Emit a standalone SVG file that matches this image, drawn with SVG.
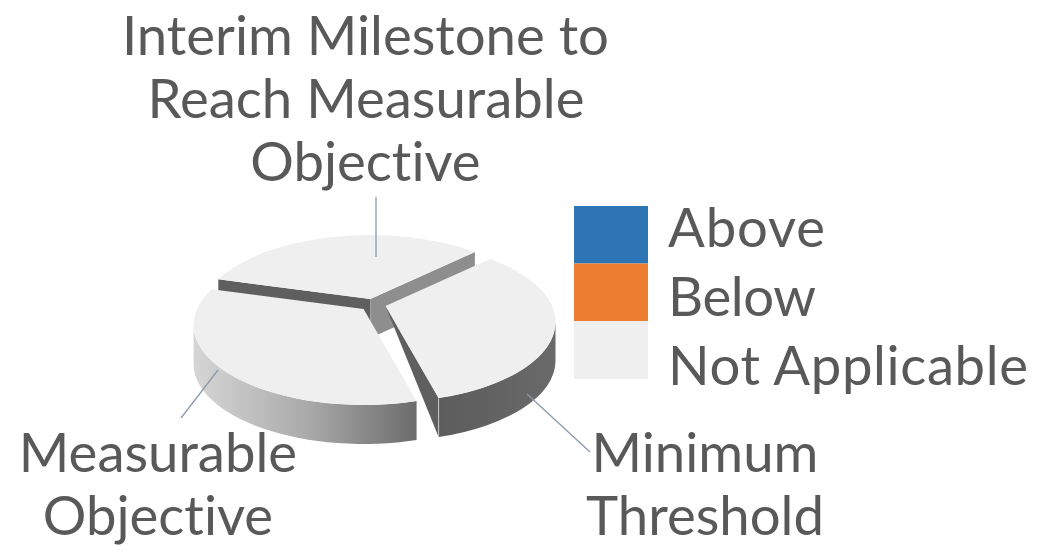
<svg xmlns="http://www.w3.org/2000/svg" width="1046" height="554" viewBox="0 0 1046 554">
  <defs>
    <linearGradient id="gMeas" gradientUnits="userSpaceOnUse" x1="193" y1="0" x2="417" y2="0">
      <stop offset="0" stop-color="#d6d6d6"/>
      <stop offset="0.5" stop-color="#ababab"/>
      <stop offset="1" stop-color="#6c6c6c"/>
    </linearGradient>
    <linearGradient id="gMin" gradientUnits="userSpaceOnUse" x1="438" y1="0" x2="556" y2="0">
      <stop offset="0" stop-color="#5c5c5c"/>
      <stop offset="1" stop-color="#6a6a6a"/>
    </linearGradient>
  </defs>
  <style>
    .lbl { font-family: Lato, "Open Sans", "Liberation Sans", sans-serif; font-size: 54.5px; fill: #595959; font-variant-ligatures: none; font-feature-settings: "liga" 0; }
    .top { fill: #efefef; }
    .dark { fill: #5f5f5f; }
    .mid { fill: #8e8e8e; }
    .leader { stroke: #8c9aab; stroke-width: 1.3; fill: none; }
  </style>
  <rect width="1046" height="554" fill="#ffffff"/>

  <g id="slice-interim">
    <polygon class="dark" points="370.3,299.1 218.3,279.3 218.3,318.3 370.3,338.1"/>
    <polygon class="mid" points="370.3,299.1 474.9,252 474.9,291 370.3,338.1"/>
    <path class="top" d="M370.3 299.1 L218.3 279.3 A170 80 0 0 1 474.9 252 Z"/>
  </g>

  <g id="slice-minimum">
    <path fill="url(#gMin)" d="M555.5 322.1 A170 80 0 0 1 438.6 398.1 L438.6 437.1 A170 80 0 0 0 555.5 361.1 Z"/>
    <polygon class="dark" points="385.5,306.1 438.6,398.1 438.6,437.1"/>
    <line x1="438.6" y1="398.1" x2="438.6" y2="437.1" stroke="#c8c8c8" stroke-width="1"/>
    <path class="top" d="M385.5 306.1 L490.1 259 A170 80 0 0 1 438.6 398.1 Z"/>
  </g>

  <g id="slice-measurable">
    <path fill="url(#gMeas)" d="M193.6 325 A170 80 0 0 0 416.6 401 L416.6 440 A170 80 0 0 1 193.6 364 Z"/>
    <path class="top" d="M363.6 309 L416.6 401 A170 80 0 0 1 211.6 289.2 Z"/>
  </g>

  <g id="connectors">
    <line class="leader" x1="376" y1="197" x2="376" y2="257"/>
    <line class="leader" x1="218" y1="370" x2="181" y2="418"/>
    <line class="leader" x1="527" y1="394" x2="590" y2="452"/>
  </g>

  <g id="label-interim">
    <text class="lbl" x="365.5" y="55" text-anchor="middle">Interim Milestone to</text>
    <text class="lbl" x="366" y="118" text-anchor="middle">Reach Measurable</text>
    <text class="lbl" x="365.5" y="181" text-anchor="middle">Objective</text>
  </g>
  <g id="label-measurable">
    <text class="lbl" x="158" y="472" text-anchor="middle">Measurable</text>
    <text class="lbl" x="158" y="535" text-anchor="middle">Objective</text>
  </g>
  <g id="label-minimum">
    <text class="lbl" x="705" y="472" text-anchor="middle">Minimum</text>
    <text class="lbl" x="705" y="535" text-anchor="middle">Threshold</text>
  </g>

  <g id="legend">
    <rect x="574" y="206" width="74" height="57.5" fill="#2e75b6"/>
    <rect x="574" y="263.5" width="74" height="57.5" fill="#ed7d31"/>
    <rect x="574" y="321" width="74" height="58" fill="#efefef"/>
    <text class="lbl" x="668" y="247" textLength="157">Above</text>
    <text class="lbl" x="668" y="316" textLength="148">Below</text>
    <text class="lbl" x="668" y="385" textLength="360">Not Applicable</text>
  </g>
</svg>
